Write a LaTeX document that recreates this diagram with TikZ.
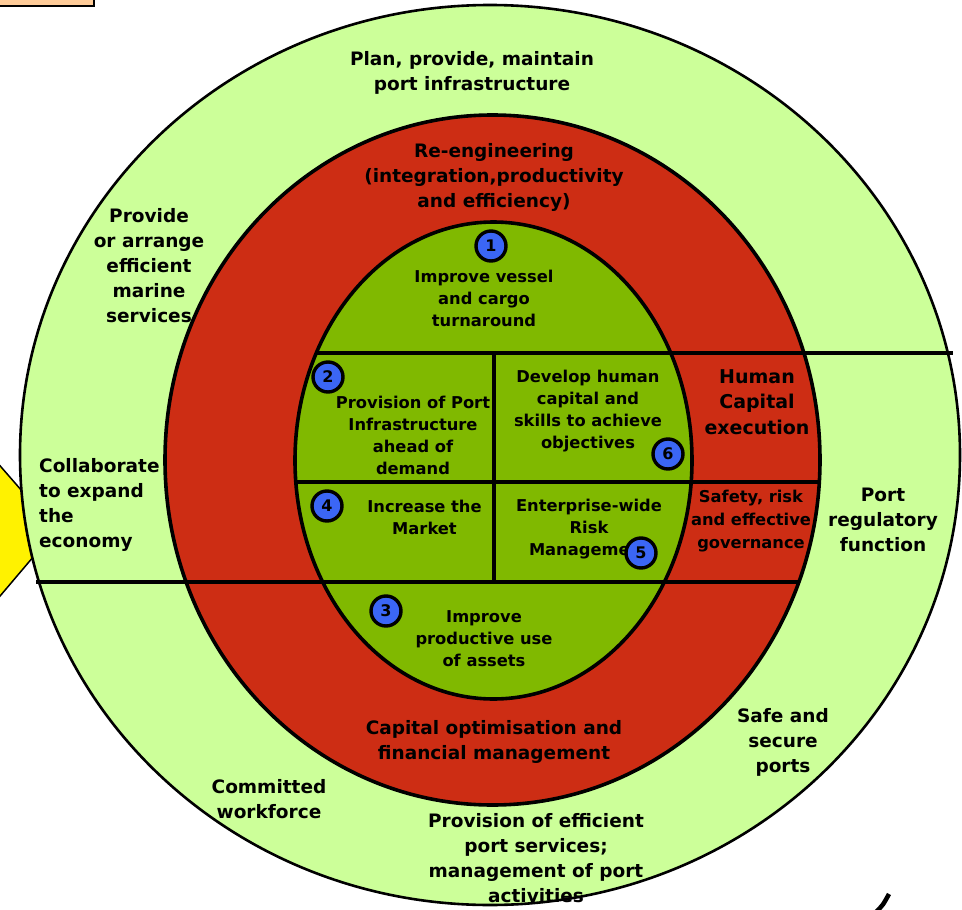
\documentclass[tikz,border=0pt]{standalone}
\usepackage{fontspec}
\setmainfont{DejaVu Sans}
\definecolor{lgreen}{RGB}{204,255,153}
\definecolor{ringred}{RGB}{205,45,20}
\definecolor{igreen}{RGB}{128,185,0}
\definecolor{nblue}{RGB}{59,102,245}
\definecolor{peach}{RGB}{255,204,153}
\tikzset{
  ring/.style={draw=black, line width=3.6pt},
  divider/.style={draw=black, line width=3.6pt},
  outertxt/.style={inner sep=0pt, align=center, font=\bfseries\fontsize{18.5}{25}\selectfont},
  innertxt/.style={inner sep=0pt, align=center, font=\bfseries\fontsize{16.3}{22}\selectfont},
  numdot/.style={circle, draw=black, line width=3.4pt, fill=nblue, minimum size=30pt, inner sep=0pt, font=\bfseries\fontsize{16}{16}\selectfont},
}
\begin{document}
\begin{tikzpicture}[x=1pt,y=-1pt]
\path[use as bounding box] (0,0) rectangle (962,910);
% peach box top-left
\draw[fill=peach, line width=2pt] (-5,-5) rectangle (94,6);
% yellow arrow shape behind
\draw[fill=yellow, line width=1.5pt] (-5,460) -- (56,530) -- (-5,602) -- cycle;
% outer ring
\draw[fill=lgreen, line width=2.6pt] (490,455) ellipse [x radius=470, y radius=450];
% red ring
\draw[ring, fill=ringred] (492.5,460) ellipse [x radius=327.5, y radius=345];
% inner green
\draw[ring, fill=igreen] (493.5,460.5) ellipse [x radius=198.5, y radius=238.5];
% dividers
\draw[divider] (316,353) -- (953,353);
\draw[divider] (296,482) -- (819,482);
\draw[divider] (36,582) -- (799,582);
\draw[divider] (494,353) -- (494,582);
% stray stroke bottom right
\draw[line width=4.5pt] (876,912) .. controls (883,905) .. (889,894);

% outer labels
\node[outertxt] (plan) at (472,73) {Plan, provide, maintain\\port infrastructure};
\node[outertxt] (marine) at (149,266) {Provide\\or arrange\\efficient\\marine\\services};
\node[outertxt, align=left, anchor=west] (collab) at (39,505) {Collaborate\\to expand\\the\\economy};
\node[outertxt] (regul) at (883,520) {Port\\regulatory\\function};
\node[outertxt] (safe) at (783,742) {Safe and\\secure\\ports};
\node[outertxt] (workf) at (269,799) {Committed\\workforce};
\node[outertxt] (portsv) at (536,858) {Provision of efficient\\port services;\\management of port\\activities};

% red ring labels
\node[outertxt] (reeng) at (494,177) {Re-engineering\\(integration,productivity\\and efficiency)};
\node[outertxt, font=\bfseries\fontsize{19}{25.5}\selectfont] (hcexec) at (757,402) {Human\\Capital\\execution};
\node[innertxt, font=\bfseries\fontsize{16.3}{23}\selectfont] (saferisk) at (751,521) {Safety, risk\\and effective\\governance};
\node[outertxt] (capopt) at (494,742) {Capital optimisation and\\financial management};

% inner labels
\node[innertxt] (vessel) at (484,298) {Improve vessel\\and cargo\\turnaround};
\node[innertxt] (infra) at (413,435) {Provision of Port\\Infrastructure\\ahead of\\demand};
\node[innertxt] (human) at (588,411) {Develop human\\capital and\\skills to achieve\\objectives};
\node[innertxt] (market) at (424.5,517) {Increase the\\Market};
\node[innertxt] (risk) at (589,529) {Enterprise-wide\\Risk\\Management};
\node[innertxt] (assets) at (484,639) {Improve\\productive use\\of assets};

% number dots
\node[numdot] (n1) at (491,246) {1};
\node[numdot] (n2) at (328,377) {2};
\node[numdot] (n3) at (386,611) {3};
\node[numdot] (n4) at (327,506) {4};
\node[numdot] (n5) at (641,553) {5};
\node[numdot] (n6) at (668,454) {6};
\end{tikzpicture}
\end{document}
